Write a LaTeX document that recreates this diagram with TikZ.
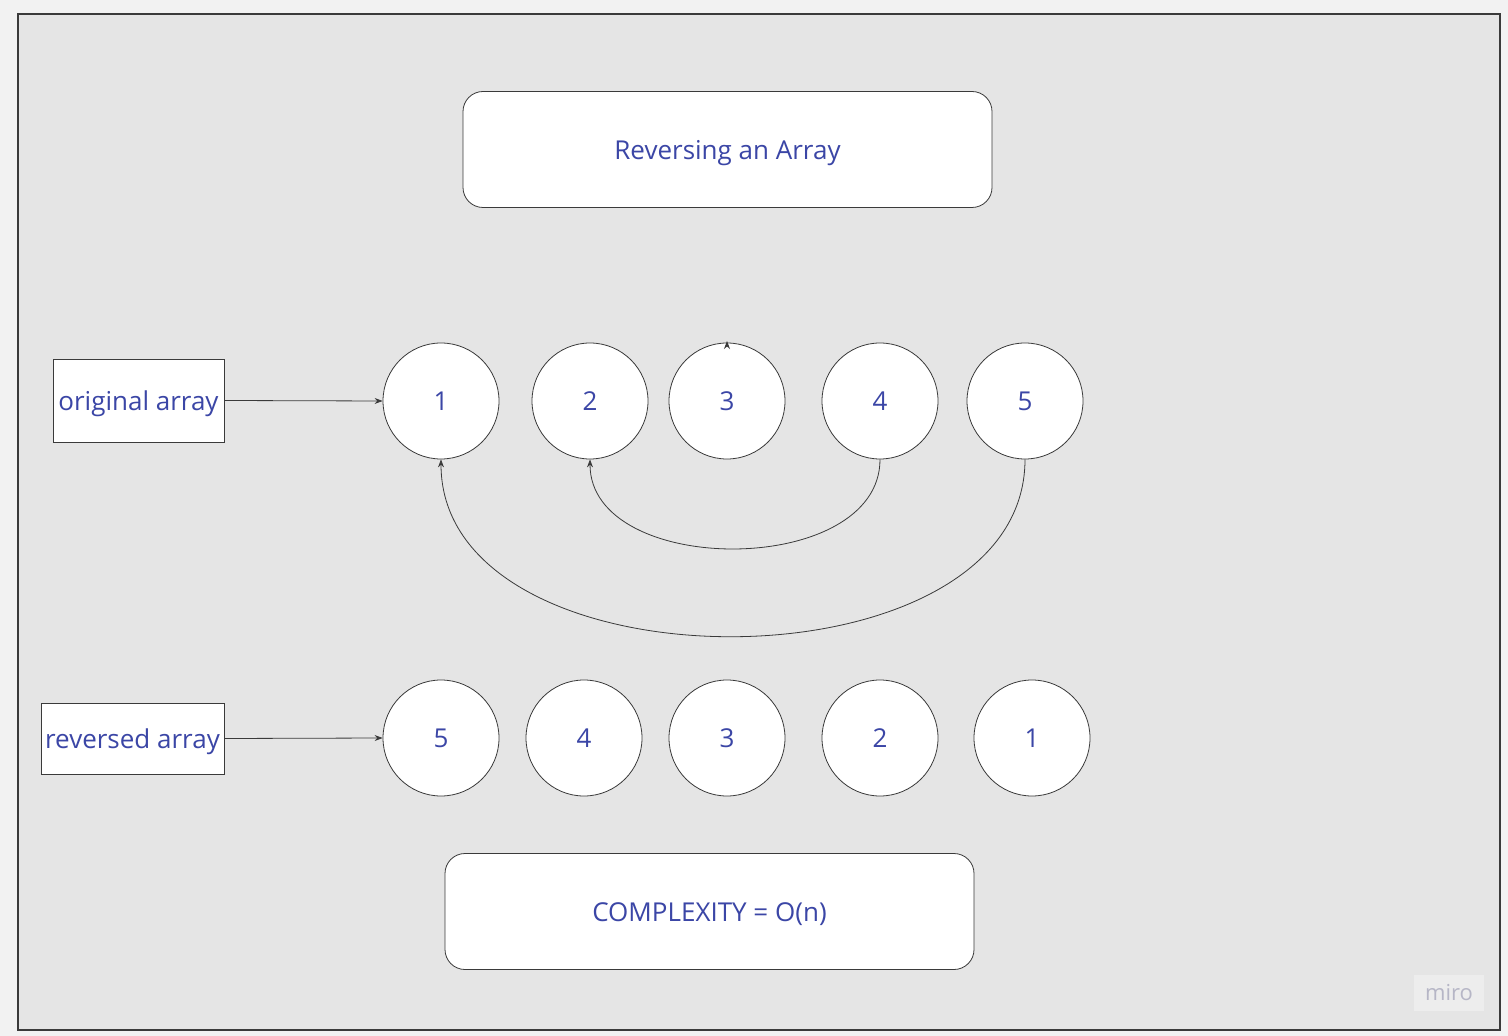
\documentclass[tikz,border=0pt]{standalone}
\usepackage{fontspec}
\setmainfont{Open Sans}
\usepackage{xcolor}
\usetikzlibrary{shapes,arrows.meta,positioning,calc}

\definecolor{pagebg}{HTML}{F2F2F2}
\definecolor{boardbg}{HTML}{E5E5E5}
\definecolor{textblue}{HTML}{3B46A6}
\definecolor{linegray}{HTML}{3A3A3A}
\definecolor{markgray}{HTML}{B6B6C6}

\begin{document}
\begin{tikzpicture}[
		x=0.5pt, y=-0.5pt,
		% Style definitions
		elem/.style={
			circle,
			draw=linegray,
			fill=white,
			minimum size=58pt,
			inner sep=0pt,
			font=\fontsize{13}{15}\selectfont,
			text=textblue,
			text height=0.95em, text depth=0pt
		},
		titlebox/.style={
			rectangle,
			draw=linegray,
			fill=white,
			minimum width=264.5pt,
			minimum height=58pt,
			rounded corners=10pt,
			font=\fontsize{13}{15}\selectfont,
			text=textblue,
			text height=1.25em, text depth=0.25em
		},
		labelbox/.style={
			rectangle,
			draw=linegray,
			fill=white,
			inner sep=0.5pt,
			font=\fontsize{13}{15}\selectfont,
			text=textblue,
			text height=1.25em, text depth=0.25em
		},
		arrow/.style={
			-{Stealth[length=4pt,width=3pt]},
			thin,
			linegray
		}
		]
		% Board background
		\useasboundingbox (0,0) rectangle (1508,1036);
		\fill[pagebg] (0,0) rectangle (1508,1036);
		\draw[fill=boardbg, draw=linegray, line width=0.7pt] (18,14) rectangle (1500,1030);
		
		% Title
		\node[titlebox] (title) at (727.5,149.5) {Reversing an Array};
		
		% Original array
		\node[elem] (o1) at (441,401) {1};
		\node[elem] (o2) at (590,401) {2};
		\node[elem] (o3) at (727,401) {3};
		\node[elem] (o4) at (880,401) {4};
		\node[elem] (o5) at (1025,401) {5};
		
		% Reversed array
		\node[elem] (r1) at (441,738) {5};
		\node[elem] (r2) at (584,738) {4};
		\node[elem] (r3) at (727,738) {3};
		\node[elem] (r4) at (880,738) {2};
		\node[elem] (r5) at (1032,738) {1};
		
		% Labels
		\node[labelbox, minimum width=85.5pt, minimum height=41.5pt] (orig) at (138.5,400.5) {original array};
		\node[labelbox, minimum width=91.5pt, minimum height=35.5pt] (rev) at (132.5,738.5) {reversed array};
		\draw[arrow] (orig.east) -- (o1.west);
		\draw[arrow] (rev.east) -- (r1.west);
		
		% Swaps
		\draw[arrow] (o4.south) .. controls (880,578) and (590,578) .. (o2.south);
		\draw[arrow] (o5.south) .. controls (1025,695) and (441,695) .. (o1.south);
		\coordinate (stub) at (727,341);
		\draw[arrow] (o3.north) -- (stub);
		
		% Complexity
		\node[titlebox] (cplx) at (709.5,911.5) {COMPLEXITY = O(n)};
		
		% Watermark
		\node[fill=pagebg!60!boardbg, minimum width=35pt, minimum height=18pt, text=markgray, font=\fontsize{11}{13}\selectfont] (miro) at (1449,993) {miro};
	\end{tikzpicture}
\end{document}
